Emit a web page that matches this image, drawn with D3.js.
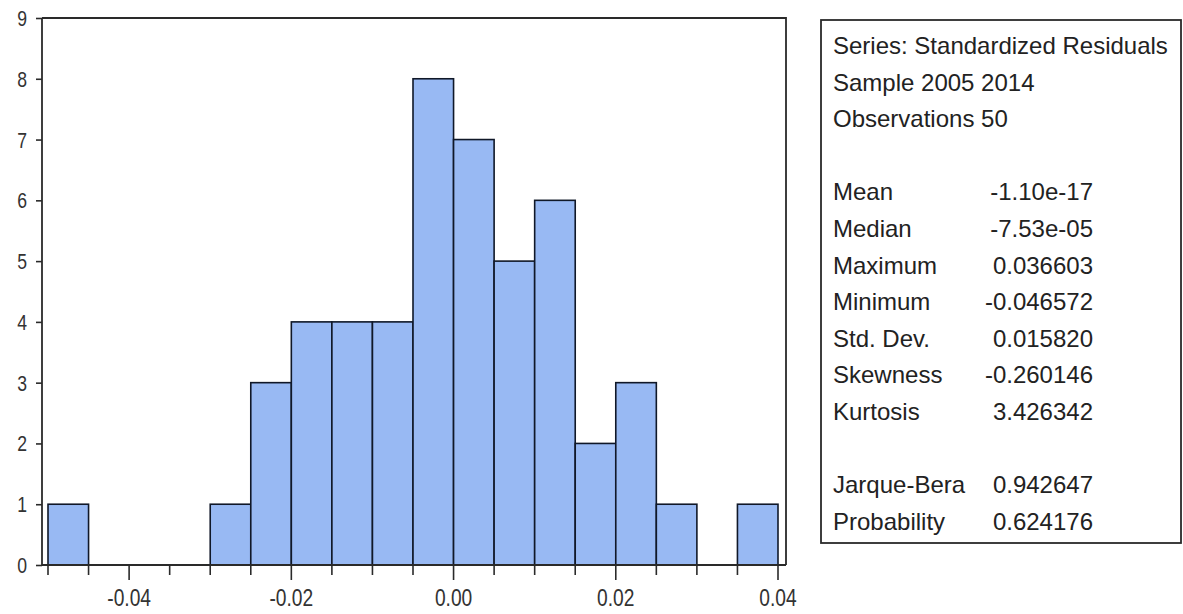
<!DOCTYPE html>
<html><head><meta charset="utf-8">
<script src="https://cdn.jsdelivr.net/npm/d3@7/dist/d3.min.js"></script>
<style>
html,body{margin:0;padding:0;background:#fff;}
svg{display:block;}
text{font-family:"Liberation Sans",Arial,sans-serif;}
</style></head>
<body>
<svg id="c" width="1183" height="614"></svg>
<script>
// Histogram bins (lower edge) and counts
const binStarts = [-0.05,-0.045,-0.04,-0.035,-0.03,-0.025,-0.02,-0.015,-0.01,-0.005,0.0,0.005,0.01,0.015,0.02,0.025,0.03,0.035];
const counts    = [1,0,0,0,1,3,4,4,4,8,7,5,6,2,3,1,0,1];
const binWidth = 0.005;
const xTickLabels = [-0.04,-0.02,0.00,0.02,0.04];
const yTicks = [0,1,2,3,4,5,6,7,8,9];
const statLabels = ["Series: Standardized Residuals","Sample 2005 2014","Observations 50","",
  "Mean","Median","Maximum","Minimum","Std. Dev.","Skewness","Kurtosis","","Jarque-Bera","Probability"];
const statValues = ["","","","","-1.10e-17","-7.53e-05","0.036603","-0.046572","0.015820","-0.260146","3.426342","","0.942647","0.624176"];

const svg = d3.select("#c");
const frame = {left:42, right:786, top:18, bottom:565};
const x = d3.scaleLinear().domain([-0.05,0.04]).range([48,778]);
const y = d3.scaleLinear().domain([0,9]).range([565,18]);
const narrow = 0.8;

// bars
svg.append("g").selectAll("rect").data(binStarts.map((s,i)=>({s,c:counts[i]})).filter(d=>d.c>0))
  .join("rect")
  .attr("x",d=>x(d.s)).attr("width",d=>x(d.s+binWidth)-x(d.s))
  .attr("y",d=>y(d.c)).attr("height",d=>y(0)-y(d.c))
  .attr("fill","#98b9f3").attr("stroke","#101828").attr("stroke-width",1.6);

// frame (top & right)
svg.append("path").attr("d",`M${frame.left},${frame.top}H${frame.right}V${frame.bottom}`)
  .attr("fill","none").attr("stroke","#2a2a2a").attr("stroke-width",1.8);

// y axis
const yAxis = d3.axisLeft(y).tickValues(yTicks).tickSize(6).tickFormat(()=>"");
const gy = svg.append("g").attr("transform",`translate(${frame.left},0)`).call(yAxis);
gy.select(".domain").attr("d",`M0,${frame.top}V${frame.bottom}`).attr("stroke","#2a2a2a").attr("stroke-width",1.8);
gy.selectAll(".tick line").attr("stroke","#2a2a2a").attr("stroke-width",1.6);
gy.selectAll(".tick text").remove();
svg.append("g").selectAll("text").data(yTicks).join("text")
  .attr("transform",d=>`translate(27,${y(d)+8}) scale(${narrow},1)`)
  .attr("text-anchor","end").attr("font-size",22).attr("fill","#333")
  .text(d=>d3.format("d")(d));

// x axis ticks (every bin edge, longer at labelled values)
const allTicks = d3.range(0,19).map(i=>-0.05+i*binWidth);
const gx = svg.append("g").attr("transform",`translate(0,${frame.bottom})`);
gx.append("path").attr("d",`M${frame.left},0H${frame.right}`).attr("stroke","#2a2a2a").attr("stroke-width",1.8);
gx.selectAll("line.minor").data(allTicks).join("line")
  .attr("x1",d=>x(d)).attr("x2",d=>x(d)).attr("y1",0)
  .attr("y2",d=>xTickLabels.some(v=>Math.abs(v-d)<1e-9)?15:10)
  .attr("stroke","#2a2a2a").attr("stroke-width",1.6);
gx.selectAll("text").data(xTickLabels).join("text")
  .attr("transform",d=>`translate(${x(d)},41) scale(${narrow},1)`)
  .attr("text-anchor","middle").attr("font-size",24).attr("fill","#333")
  .text(d=>d3.format(".2f")(d).replace("\u2212","-"));

// stats box
svg.append("rect").attr("x",821).attr("y",20).attr("width",360).attr("height",523)
  .attr("fill","#fff").attr("stroke","#2a2a2a").attr("stroke-width",1.8);
const rowY = i => 54 + i*36.6;
svg.append("g").selectAll("text").data(statLabels).join("text")
  .attr("x",833).attr("y",(d,i)=>rowY(i))
  .attr("font-size",24).attr("fill","#222").text(d=>d);
svg.append("g").selectAll("text").data(statValues).join("text")
  .attr("x",1093).attr("y",(d,i)=>rowY(i)).attr("text-anchor","end")
  .attr("font-size",24).attr("fill","#222").text(d=>d);
</script>
</body></html>
